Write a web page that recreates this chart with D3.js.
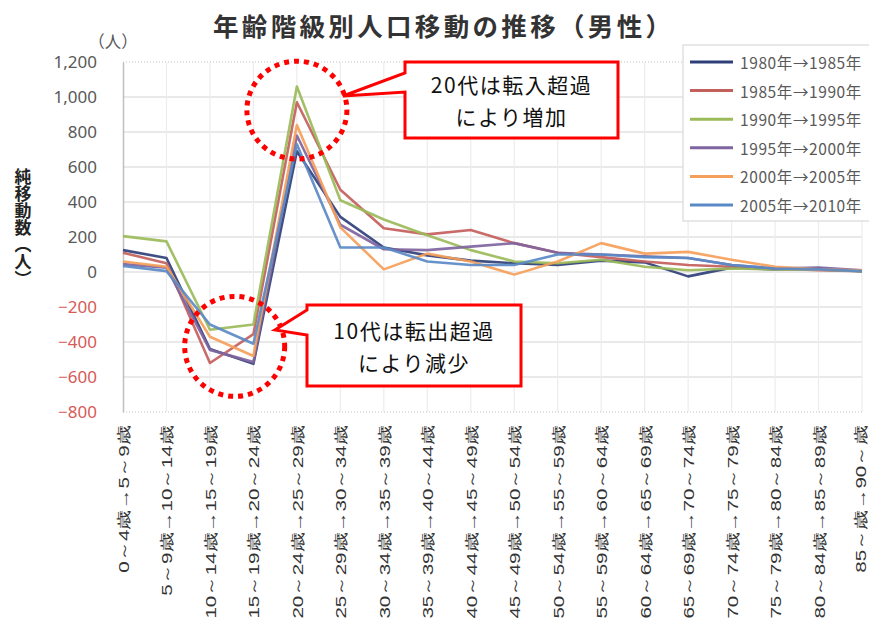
<!DOCTYPE html>
<html>
<head>
<meta charset="utf-8">
<script src="https://cdn.jsdelivr.net/npm/d3@7"></script>
<style>
  body { margin: 0; background: #fff; }
  svg { display: block; font-family: "Noto Sans CJK JP", "Noto Sans", sans-serif; }
</style>
</head>
<body>
<svg id="chart" width="869" height="628"></svg>
<script>
// Age-group transitions (x axis)
const categories = [
  "0～4歳→5～9歳", "5～9歳→10～14歳", "10～14歳→15～19歳", "15～19歳→20～24歳",
  "20～24歳→25～29歳", "25～29歳→30～34歳", "30～34歳→35～39歳", "35～39歳→40～44歳",
  "40～44歳→45～49歳", "45～49歳→50～54歳", "50～54歳→55～59歳", "55～59歳→60～64歳",
  "60～64歳→65～69歳", "65～69歳→70～74歳", "70～74歳→75～79歳", "75～79歳→80～84歳",
  "80～84歳→85～89歳", "85～歳→90～歳"
];

// Period names (legend)
const seriesNames = ["1980年→1985年", "1985年→1990年", "1990年→1995年",
                     "1995年→2000年", "2000年→2005年", "2005年→2010年"];

// Net migration (persons), one array per period
const net1980 = [125, 80, -440, -525, 690, 315, 140, 95, 65, 50, 40, 65, 55, -25, 25, 15, 20, 5];
const net1985 = [110, 50, -520, -355, 970, 470, 250, 215, 240, 165, 110, 85, 60, 40, 30, 20, 10, 5];
const net1990 = [205, 175, -330, -300, 1060, 410, 300, 210, 125, 60, 50, 70, 30, 10, 20, 15, 15, 5];
const net1995 = [45, 25, -445, -515, 780, 270, 130, 125, 145, 165, 110, 100, 90, 80, 40, 20, 25, 10];
const net2000 = [60, 30, -370, -480, 840, 255, 15, 105, 60, -15, 60, 165, 105, 115, 70, 30, 15, 10];
const net2005 = [35, 5, -300, -410, 730, 140, 140, 60, 40, 40, 100, 100, 85, 80, 40, 20, 15, 5];

const seriesValues = [net1980, net1985, net1990, net1995, net2000, net2005];
const seriesColors = ["#2f4079", "#c4605c", "#9bbb59", "#7f65a0", "#f5a05a", "#5a8ac6"];

// Y axis ticks
const yTicks = [-800, -600, -400, -200, 0, 200, 400, 600, 800, 1000, 1200];

const svg = d3.select("#chart");
const plot = { left: 123, right: 862, top: 62, bottom: 412 };

const x = d3.scalePoint().domain(categories).range([plot.left, plot.right]);
const y = d3.scaleLinear().domain([-800, 1200]).range([plot.bottom, plot.top]);

// Title
svg.append("text")
  .attr("x", 442).attr("y", 24)
  .attr("text-anchor", "middle").attr("dominant-baseline", "central")
  .attr("font-size", 25.5).attr("font-weight", "bold").attr("fill", "#333")
  .attr("textLength", 458).attr("lengthAdjust", "spacing")
  .text("年齢階級別人口移動の推移（男性）");

// Unit label above the axis
svg.append("text")
  .attr("x", 113).attr("y", 41)
  .attr("text-anchor", "middle").attr("dominant-baseline", "central")
  .attr("font-size", 16.5).attr("fill", "#595959")
  .text("（人）");

// Vertical y-axis title
svg.append("text")
  .attr("x", 23).attr("y", 168)
  .attr("font-size", 17).attr("font-weight", "bold").attr("fill", "#222")
  .style("writing-mode", "vertical-rl")
  .text("純移動数（人）");

// Grid
const grid = svg.append("g");
grid.selectAll("line.h")
  .data(yTicks.filter(d => d > -800 && d < 1200))
  .join("line")
  .attr("x1", plot.left).attr("x2", plot.right)
  .attr("y1", d => y(d)).attr("y2", d => y(d))
  .attr("stroke", "#e2e2e2").attr("stroke-width", 1.4);
grid.selectAll("line.v")
  .data(categories.slice(1))
  .join("line")
  .attr("x1", d => x(d)).attr("x2", d => x(d))
  .attr("y1", plot.top).attr("y2", plot.bottom)
  .attr("stroke", "#ececec").attr("stroke-width", 1.2);
[plot.top, plot.bottom].forEach(v => {
  grid.append("line")
    .attr("x1", plot.left).attr("x2", plot.right)
    .attr("y1", v).attr("y2", v)
    .attr("stroke", "#c4c4c4").attr("stroke-width", 1.2)
    .attr("stroke-dasharray", "1 2");
});

// Y axis
const yAxis = svg.append("g")
  .attr("transform", `translate(${plot.left},0)`)
  .call(d3.axisLeft(y).tickValues(yTicks).tickSize(0).tickPadding(26).tickFormat(d3.format(",")));
yAxis.select(".domain").attr("stroke", "#bfbfbf").attr("stroke-width", 1.5);
yAxis.selectAll("text")
  .attr("font-family", "'Noto Sans', sans-serif")
  .attr("font-size", 17)
  .attr("fill", d => d < 0 ? "#d65a58" : "#595959");

// X axis with rotated labels
const xAxis = svg.append("g")
  .attr("transform", `translate(0,${plot.bottom})`)
  .call(d3.axisBottom(x).tickSize(0).tickPadding(0));
xAxis.select(".domain").remove();
xAxis.selectAll("text")
  .attr("y", 0).attr("dy", 0)
  .attr("font-size", 15.5).attr("fill", "#333")
  .attr("text-anchor", "end")
  .attr("dominant-baseline", "central")
  .attr("transform", (d, i) =>
    `translate(${i === categories.length - 1 ? -2 : 0},13) rotate(-90) scale(1.33,1)`);

// Lines
const line = d3.line()
  .x((d, i) => x(categories[i]))
  .y(d => y(d));
svg.append("g").selectAll("path")
  .data(seriesValues)
  .join("path")
  .attr("d", line)
  .attr("fill", "none")
  .attr("stroke", (d, i) => seriesColors[i])
  .attr("stroke-width", 2.6)
  .attr("stroke-linejoin", "round")
  .attr("stroke-opacity", 0.92);

// Legend
const lg = svg.append("g");
lg.append("rect")
  .attr("x", 683).attr("y", 45).attr("width", 200).attr("height", 176)
  .attr("fill", "#fff").attr("stroke", "#d9d9d9").attr("stroke-width", 1.2);
const items = lg.selectAll("g.item")
  .data(seriesNames)
  .join("g")
  .attr("transform", (d, i) => `translate(0,${62 + i * 28.6})`);
items.append("line")
  .attr("x1", 690).attr("x2", 733)
  .attr("stroke", (d, i) => seriesColors[i]).attr("stroke-width", 3);
items.append("text")
  .attr("x", 740).attr("dominant-baseline", "central")
  .attr("font-size", 15.5).attr("fill", "#595959")
  .attr("letter-spacing", 0.6)
  .text(d => d);

// Annotations: dotted highlight circles
const ann = svg.append("g");
ann.append("ellipse")
  .attr("cx", x(categories[4])).attr("cy", y(925))
  .attr("rx", 50).attr("ry", 49)
  .attr("fill", "none").attr("stroke", "#ff0000")
  .attr("stroke-width", 5).attr("stroke-dasharray", "5 5");
ann.append("ellipse")
  .attr("cx", (x(categories[2]) + x(categories[3])) / 2 + 3).attr("cy", y(-425))
  .attr("rx", 50).attr("ry", 50)
  .attr("fill", "none").attr("stroke", "#ff0000")
  .attr("stroke-width", 5).attr("stroke-dasharray", "5 5");

// Callout boxes with pointers
function callout(bx, by, bw, bh, pTop, pBot, tipX, tipY, lines) {
  const p = d3.path();
  p.moveTo(bx, by);
  p.lineTo(bx + bw, by);
  p.lineTo(bx + bw, by + bh);
  p.lineTo(bx, by + bh);
  p.lineTo(bx, pBot);
  p.lineTo(tipX, tipY);
  p.lineTo(bx, pTop);
  p.closePath();
  ann.append("path").attr("d", p.toString())
    .attr("fill", "#fff").attr("stroke", "#ff0000").attr("stroke-width", 3)
    .attr("stroke-linejoin", "miter");
  lines.forEach((t, i) => {
    ann.append("text")
      .attr("x", bx + bw / 2).attr("y", by + bh / 2 + (i - 0.5) * 32)
      .attr("text-anchor", "middle").attr("dominant-baseline", "central")
      .attr("font-size", 21).attr("fill", "#111").attr("letter-spacing", 1.5)
      .text(t);
  });
}
callout(405, 62, 213, 76, 73, 92, 343, 96, ["20代は転入超過", "により増加"]);
callout(307, 305, 214, 81, 310, 335, 275, 330, ["10代は転出超過", "により減少"]);
</script>
</body>
</html>
